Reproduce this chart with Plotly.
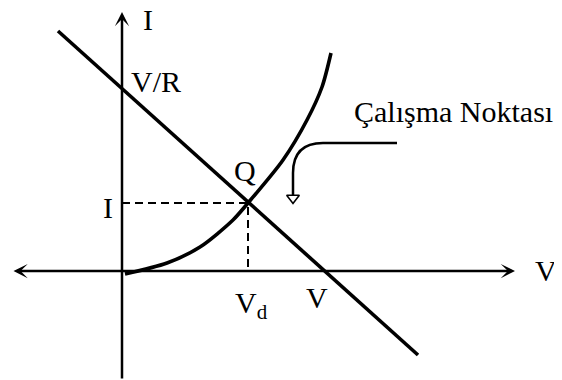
import plotly.graph_objects as go

# load line end points (V, I)
load_v = [-6.4, 29.6]
load_i = [24.0, -8.4]

# diode characteristic
diode_v = [0.3, 4.5, 7.8, 11.1, 12.6, 16.1, 18.5, 20.0, 20.9]
diode_i = [-0.3, 0.8, 2.4, 5.1, 6.8, 11.1, 15.1, 18.4, 21.8]

# operating point Q
q_v = 12.6
q_i = 6.8

# callout for "Çalışma Noktası": start, corner, arrow tip
call_x = [27.5, 17.1, 17.1]
call_y = [12.8, 12.8, 7.55]

FONT = "Liberation Serif"
SZ = 30

fig = go.Figure()

# dashed projections of Q
fig.add_trace(go.Scatter(x=[0, q_v, q_v], y=[q_i, q_i, 0], mode='lines',
                         line=dict(color='black', width=2, dash='8px,5px')))
fig.add_trace(go.Scatter(x=load_v, y=load_i, mode='lines',
                         line=dict(color='black', width=3.6)))
fig.add_trace(go.Scatter(x=diode_v, y=diode_i, mode='lines',
                         line=dict(color='black', width=3.6, shape='spline', smoothing=0.8)))
# hollow arrow head of the callout
fig.add_trace(go.Scatter(x=[call_x[2]], y=[call_y[2] - 0.25], mode='markers',
                         marker=dict(symbol='triangle-down-open', size=11, color='black',
                                     line=dict(width=1.6, color='black'))))

r = 3.0
fig.add_shape(type='path', xref='x', yref='y',
              path=(f"M {call_x[0]},{call_y[0]} L {call_x[1] + r},{call_y[1]} "
                    f"Q {call_x[1]},{call_y[1]} {call_x[1]},{call_y[1] - r} "
                    f"L {call_x[2]},{call_y[2]}"),
              line=dict(color='black', width=2.5))

# axes with arrow heads
fig.add_annotation(x=0, y=25.9, ax=0, ay=-10.9, xref='x', yref='y', axref='x', ayref='y',
                   text='', showarrow=True, arrowhead=3, arrowsize=0.95, arrowwidth=2.5,
                   arrowcolor='black')
fig.add_annotation(x=39.3, y=0, ax=-11.0, ay=0, xref='x', yref='y', axref='x', ayref='y',
                   text='', showarrow=True, arrowhead=3, startarrowhead=3, arrowside='end+start',
                   arrowsize=0.95, startarrowsize=0.95, arrowwidth=2.5, arrowcolor='black')

labels = [
    ("I", 2.6, 25.2),
    ("V/R", 3.4, 19.0),
    ("Q", 12.3, 10.1),
    ("I", -1.4, 6.4),
    ("V<sub>d</sub>", 12.9, -3.4),
    ("V", 19.5, -2.6),
    ("V", 42.4, 0.1),
    ("Çalışma Noktası", 33.1, 16.0),
]
for txt, lx, ly in labels:
    fig.add_annotation(x=lx, y=ly, xref='x', yref='y', text=txt, showarrow=False,
                       xanchor='center', yanchor='middle',
                       font=dict(family=FONT, size=SZ, color='black'))

# page body has an 8px margin, so the figure is 8px smaller and starts at (8, 8)
fig.update_layout(
    width=554, height=372,
    margin=dict(l=0, r=0, t=0, b=0),
    paper_bgcolor='white', plot_bgcolor='white',
    showlegend=False,
    xaxis=dict(range=[-11.4, 44.0], visible=False, fixedrange=True),
    yaxis=dict(range=[-10.9, 26.3], visible=False, fixedrange=True),
)

fig.write_html("out.html")
